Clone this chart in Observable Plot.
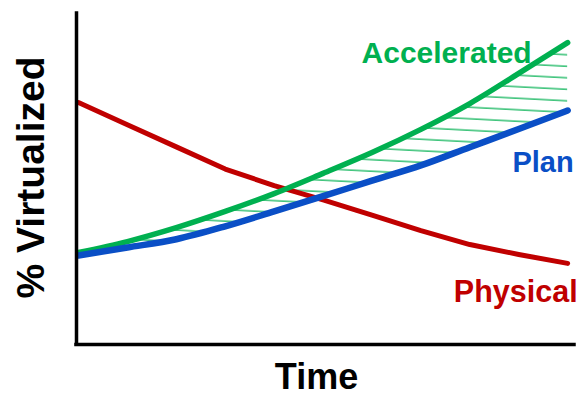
<!DOCTYPE html>
<html><head><meta charset="utf-8">
<script src="https://cdn.jsdelivr.net/npm/d3@7"></script>
<script src="https://cdn.jsdelivr.net/npm/@observablehq/plot@0.6"></script>
<style>body{margin:0;background:#fff}</style>
</head><body><div id="chart"></div>
<script>
// ---- data ----
const time = [0, 1, 2, 3, 4, 5, 6, 7, 8, 9, 10];
const physical    = [73.1, 66.4, 59.7, 53.0, 48.0, 43.7, 39.1, 34.4, 30.2, 27.2, 24.5];
const plan        = [26.9, 29.3, 31.8, 35.7, 40.2, 44.8, 49.5, 54.1, 59.6, 65.1, 70.7];
const accelerated = [27.8, 31.1, 35.3, 40.2, 45.6, 51.7, 58.0, 65.0, 72.8, 81.9, 91.2];
const seriesNames = ["Physical", "Plan", "Accelerated"];
const xTitle = "Time";
const yTitle = "% Virtualized";
const xDomain = [-0.04, 10.14];
const yDomain = [0, 100];

const RED = "#C00000", GREEN = "#00B050", BLUE = "#0A4FC6";
const FONT = "Arial, 'Liberation Sans', sans-serif";

const rows = time.map((t, i) => ({t, physical: physical[i], plan: plan[i], accelerated: accelerated[i]}));
const last = rows[rows.length - 1];

const svg = Plot.plot({
  width: 588, height: 393,
  marginLeft: 76, marginRight: 14, marginTop: 13, marginBottom: 49,
  x: {domain: xDomain, axis: null},
  y: {domain: yDomain, axis: null},
  style: {fontFamily: FONT, background: "#fff", overflow: "visible"},
  marks: [
    Plot.areaY(rows, {x: "t", y1: "plan", y2: "accelerated", fill: "url(#hatch)", curve: "monotone-x"}),
    Plot.lineY(rows, {x: "t", y: "physical", stroke: RED, strokeWidth: 5, curve: "linear"}),
    Plot.lineY(rows, {x: "t", y: "accelerated", stroke: GREEN, strokeWidth: 5.5, curve: "monotone-x"}),
    Plot.lineY(rows, {x: "t", y: "plan", stroke: BLUE, strokeWidth: 6.5, curve: "monotone-x"}),
    Plot.ruleX([xDomain[0]], {stroke: "#000", strokeWidth: 3.5, y1: yDomain[0], y2: yDomain[1], strokeLinecap: "square"}),
    Plot.ruleY([yDomain[0]], {stroke: "#000", strokeWidth: 3.5, strokeLinecap: "square"}),
    Plot.text([{t: last.t, v: last.accelerated, s: seriesNames[2]}], {x: "t", y: "v", text: "s", textAnchor: "end", lineAnchor: "middle", dx: -36, dy: 11, fill: GREEN, fontSize: 30, fontWeight: "bold"}),
    Plot.text([{t: last.t, v: last.plan, s: seriesNames[1]}], {x: "t", y: "v", text: "s", textAnchor: "end", lineAnchor: "middle", dx: 6, dy: 52.7, fill: BLUE, fontSize: 29, fontWeight: "bold"}),
    Plot.text([{t: last.t, v: last.physical, s: seriesNames[0]}], {x: "t", y: "v", text: "s", textAnchor: "end", lineAnchor: "middle", dx: 10, dy: 29, fill: RED, fontSize: 30.5, fontWeight: "bold"}),
    Plot.text([xTitle], {frameAnchor: "bottom", text: d => d, textAnchor: "middle", lineAnchor: "middle", dx: -9, dy: 32.5, fill: "#000", fontSize: 36, fontWeight: "bold"}),
    Plot.text([yTitle], {frameAnchor: "left", text: d => d, textAnchor: "middle", rotate: -90, lineAnchor: "middle", dx: -44.5, dy: -1.5, fill: "#000", fontSize: 39, fontWeight: "bold"})
  ]
});

// hatch pattern for the gap between Accelerated and Plan
const defs = d3.select(svg).insert("defs", ":first-child");
const pat = defs.append("pattern").attr("id", "hatch").attr("patternUnits", "userSpaceOnUse")
  .attr("width", 60).attr("height", 11.5).attr("patternTransform", "rotate(3)");
pat.append("line").attr("x1", 0).attr("x2", 60).attr("y1", 2).attr("y2", 2)
  .attr("stroke", GREEN).attr("stroke-width", 1.3);
d3.select(svg).selectAll('g[aria-label="area"] path').attr("fill", "url(#hatch)");

document.getElementById("chart").appendChild(svg);
</script>
</body></html>
